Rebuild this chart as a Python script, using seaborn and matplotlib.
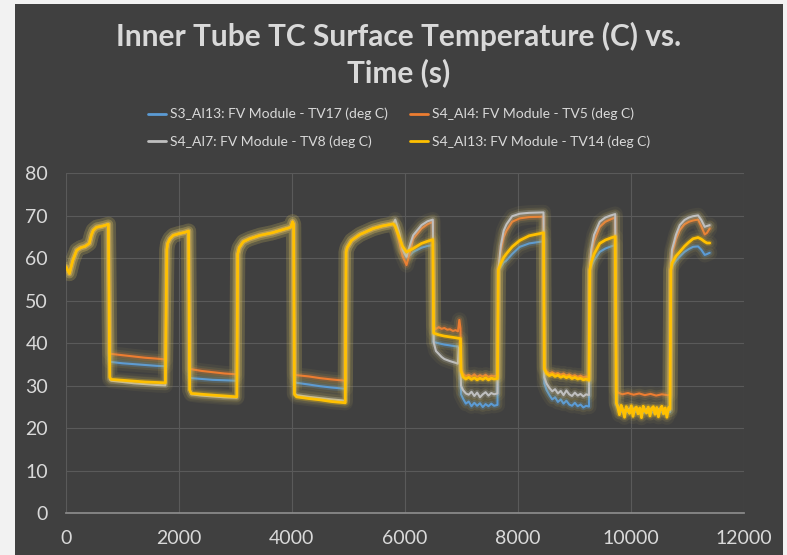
# %%
import pandas as pd
import seaborn as sns
import matplotlib.pyplot as plt
import matplotlib.patheffects as pe
from matplotlib.lines import Line2D
from matplotlib.patches import Rectangle

sns.set_theme(style="dark")
plt.rcParams['font.family'] = ['Lato', 'DejaVu Sans']

# %%
# shared time stamps (s)
hi_a_t = [0, 60, 120, 190, 260, 336, 412, 450, 483, 543, 650, 750]
hi_a_v = [58.0, 56.4, 59.5, 61.9, 62.5, 62.8, 63.5, 65.5, 66.6, 67.3, 67.6, 68.0]
lo1_t = [775, 800, 1000, 1200, 1400, 1600, 1760]
hi_b_t = [1785, 1800, 1840, 1900, 2000, 2100, 2170]
hi_b_v = [62.0, 63.5, 64.6, 65.4, 65.8, 66.1, 66.4]
lo2_t = [2190, 2220, 2400, 2600, 2800, 3025]
hi_c_t = [3040, 3068, 3138, 3250, 3434, 3650, 3935, 3980, 4012, 4030]
hi_c_v = [61.0, 62.5, 63.9, 64.6, 65.4, 66.0, 67.1, 67.3, 68.6, 68.0]
lo3_t = [4045, 4083, 4300, 4500, 4700, 4945]
hi_d_t = [4960, 4979, 5056, 5204, 5439, 5600, 5793]
hi_d_v = [61.5, 62.5, 64.2, 65.6, 67.0, 67.6, 68.1]
mid_t = [5830, 5900, 5960, 6030, 6100, 6147, 6295, 6400, 6495]
lo6_t = [6995, 7030, 7080, 7130, 7180, 7230, 7280, 7330, 7380, 7430, 7480, 7530, 7580, 7640]
hi7_t = [7655, 7700, 7750, 7800, 7900, 8035, 8200, 8455]
lo8_t = [8470, 8510, 8560, 8610, 8660, 8710, 8760, 8810, 8860, 8910, 8960, 9010,
         9060, 9110, 9160, 9210, 9260]
hi9_t = [9275, 9300, 9350, 9451, 9550, 9650, 9725]
hi11_t = [10710, 10730, 10800, 10867, 10950, 11030, 11103, 11192, 11250, 11310, 11350, 11398]

lo5_short_t = [6510, 6600, 6700, 6800, 6900, 6985]
lo10_short_t = [9745, 9800, 9900, 10000, 10100, 10200, 10300, 10400, 10500, 10600, 10695]

# S4_AI13 (yellow)
yel_lo10_t = [9745, 9770, 9800, 9830, 9860, 9890, 9920, 9950, 9980, 10010, 10040, 10070,
              10100, 10130, 10160, 10190, 10220, 10250, 10280, 10310, 10340, 10370, 10400,
              10430, 10460, 10490, 10520, 10550, 10580, 10610, 10640, 10670, 10695]
yel_t = (hi_a_t + lo1_t + hi_b_t + lo2_t + hi_c_t + lo3_t + hi_d_t + mid_t + lo5_short_t
         + lo6_t + hi7_t + lo8_t + hi9_t + yel_lo10_t + hi11_t)
yel_v = (hi_a_v + [32.0, 31.5, 31.3, 31.1, 30.9, 30.8, 30.7] + hi_b_v
         + [29.0, 28.2, 28.0, 27.8, 27.6, 27.4] + hi_c_v
         + [28.0, 27.4, 27.0, 26.7, 26.3, 26.0] + hi_d_v
         + [67.5, 65.0, 62.8, 61.5, 62.0, 62.3, 63.5, 64.0, 64.4]
         + [42.4, 42.0, 41.7, 41.5, 41.3, 41.1]
         + [33.5, 32.1, 31.6, 32.0, 31.5, 31.9, 31.4, 31.8, 31.5, 31.9, 31.4, 31.8, 31.6, 31.7]
         + [57.2, 58.8, 60.2, 61.1, 62.7, 64.2, 65.3, 66.0]
         + [34.0, 32.9, 32.4, 32.7, 32.2, 32.5, 32.0, 32.3, 31.9, 32.2, 31.7, 32.0, 31.6,
            31.8, 31.4, 31.6, 31.3]
         + [57.2, 59.0, 61.0, 63.5, 64.3, 64.8, 65.1]
         + [26.0, 25.0, 23.2, 25.4, 24.3, 22.6, 25.1, 24.2, 23.5, 25.3, 22.8, 24.6, 25.0,
            23.4, 24.8, 22.5, 25.2, 24.1, 23.6, 25.0, 22.9, 24.7, 25.1, 23.3, 24.9, 22.7,
            24.5, 25.2, 23.4, 24.8, 22.6, 24.9, 24.5]
         + [57.2, 58.8, 60.5, 61.5, 62.8, 63.8, 64.6, 64.9, 64.5, 63.9, 63.6, 63.6])

# S4_AI4 (orange)
ora_lo5_t = [6510, 6540, 6600, 6650, 6700, 6750, 6800, 6850, 6900, 6940, 6965, 6985]
ora_lo10_t = [9745, 9775, 9850, 9950, 10050, 10150, 10250, 10350, 10450, 10550, 10650, 10695]
ora_t = (hi_a_t + lo1_t + hi_b_t + lo2_t + hi_c_t + lo3_t + hi_d_t + mid_t + ora_lo5_t
         + lo6_t + hi7_t + lo8_t + hi9_t + ora_lo10_t + hi11_t)
ora_v = (hi_a_v + [37.8, 37.5, 37.2, 36.9, 36.6, 36.4, 36.2] + hi_b_v
         + [34.0, 33.9, 33.5, 33.2, 32.9, 32.7] + hi_c_v
         + [32.8, 32.5, 32.2, 31.8, 31.5, 31.2] + hi_d_v
         + [67.5, 64.0, 60.5, 58.4, 62.0, 64.6, 67.0, 68.0, 68.6]
         + [44.2, 43.3, 43.8, 43.4, 43.6, 43.2, 43.3, 42.9, 43.1, 42.8, 45.5, 43.5]
         + [34.0, 32.8, 32.3, 32.6, 32.2, 32.7, 32.1, 32.5, 32.2, 32.6, 32.1, 32.4, 32.3, 32.4]
         + [57.2, 62.0, 65.0, 66.5, 68.6, 69.4, 69.7, 69.8]
         + [34.5, 33.4, 32.9, 33.2, 32.8, 33.0, 32.6, 32.9, 32.4, 32.7, 32.3, 32.5, 32.1,
            32.4, 32.0, 32.2, 32.0]
         + [57.2, 61.0, 64.0, 67.4, 68.6, 69.2, 69.6]
         + [29.0, 28.4, 28.0, 28.3, 27.9, 28.2, 27.8, 28.1, 27.7, 28.0, 27.8, 27.9]
         + [57.2, 61.0, 64.5, 66.6, 68.0, 68.6, 68.9, 69.1, 67.5, 65.6, 66.0, 67.0])

# S3_AI13 (blue)
blu_t = (hi_a_t + lo1_t + hi_b_t + lo2_t + hi_c_t + lo3_t + hi_d_t + mid_t + lo5_short_t
         + lo6_t + hi7_t + lo8_t + hi9_t + lo10_short_t + hi11_t)
blu_v = (hi_a_v + [35.8, 35.6, 35.3, 35.1, 34.9, 34.7, 34.6] + hi_b_v
         + [32.0, 31.8, 31.6, 31.4, 31.3, 31.2] + hi_c_v
         + [31.0, 30.7, 30.3, 29.9, 29.6, 29.3] + hi_d_v
         + [67.5, 64.5, 61.8, 60.2, 60.8, 61.5, 62.5, 62.9, 63.1]
         + [40.3, 40.0, 39.7, 39.5, 39.3, 39.2]
         + [28.0, 27.0, 25.8, 26.3, 25.2, 26.0, 25.3, 25.9, 25.0, 25.7, 25.2, 25.8, 25.3, 25.5]
         + [57.2, 58.0, 59.0, 59.5, 61.0, 62.7, 63.5, 64.0]
         + [30.5, 29.0, 27.8, 26.8, 27.3, 26.2, 26.8, 25.8, 26.5, 25.6, 25.3, 26.0, 25.2,
            25.6, 24.9, 25.3, 25.1]
         + [57.2, 58.0, 59.5, 61.5, 62.3, 62.8, 63.1]
         + [25.5, 24.0, 23.6, 24.2, 23.8, 23.5, 24.0, 23.7, 23.9, 23.6, 23.8]
         + [57.2, 58.0, 59.4, 60.4, 61.5, 62.2, 62.7, 62.8, 62.0, 60.8, 61.0, 61.3])

# S4_AI7 (gray)
gra_lo5_t = [6510, 6550, 6600, 6650, 6700, 6800, 6900, 6940, 6955, 6985]
gra_t = (hi_a_t + lo1_t + hi_b_t + lo2_t + hi_c_t + lo3_t + hi_d_t + mid_t + gra_lo5_t
         + lo6_t + hi7_t + lo8_t + hi9_t + lo10_short_t + hi11_t)
gra_v = (hi_a_v + [31.5, 31.2, 30.9, 30.6, 30.4, 30.2, 30.1] + hi_b_v
         + [29.0, 28.0, 27.7, 27.5, 27.3, 27.2] + hi_c_v
         + [28.3, 27.8, 27.4, 27.1, 26.8, 26.5] + hi_d_v
         + [69.1, 66.0, 62.0, 60.4, 63.5, 65.4, 67.8, 68.7, 69.1]
         + [40.3, 38.2, 37.5, 36.8, 36.3, 35.8, 35.4, 35.2, 39.0, 34.5]
         + [30.0, 29.0, 28.2, 27.9, 28.6, 27.6, 28.4, 27.3, 28.0, 28.5, 27.7, 28.3, 28.0, 28.2]
         + [57.2, 63.0, 66.5, 68.0, 69.9, 70.5, 70.7, 70.8]
         + [32.0, 30.5, 29.5, 28.7, 29.2, 28.2, 28.8, 27.8, 28.9, 28.0, 27.6, 28.4, 27.7,
            28.1, 27.5, 28.0, 27.8]
         + [57.2, 62.0, 65.5, 68.6, 69.6, 70.1, 70.4]
         + [26.0, 24.6, 24.2, 24.8, 24.4, 24.1, 24.6, 24.3, 24.5, 24.2, 24.4]
         + [57.2, 62.0, 65.5, 67.8, 69.0, 69.6, 69.9, 70.1, 69.0, 67.4, 67.6, 67.8])

labels = ["S3_AI13: FV Module - TV17 (deg C)", "S4_AI4: FV Module - TV5 (deg C)",
          "S4_AI7: FV Module - TV8 (deg C)", "S4_AI13: FV Module - TV14 (deg C)"]
colors = ['#5B9BD5', '#ED7D31', '#BFBFBF', '#FFC000']
widths = [1.5, 1.5, 1.5, 2.0]

# %%
fig = plt.figure(figsize=(7.87, 5.55), dpi=100, facecolor='#f2f2f2')
fig.patches.append(Rectangle((15 / 787, 0), 768 / 787, 551 / 555, transform=fig.transFigure,
                             facecolor='#404040', edgecolor='none', zorder=-5))
ax = fig.add_axes([66 / 787, 41.7 / 555, 677.7 / 787, 340 / 555])
ax.set_facecolor('#404040')

series = [(blu_t, blu_v), (ora_t, ora_v), (gra_t, gra_v), (yel_t, yel_v)]
for (t, v), lab, c, w in zip(series, labels, colors, widths):
    df = pd.DataFrame({'time': t, 'temp': v})
    glow = [pe.Stroke(linewidth=11, foreground='#c8b460', alpha=0.07),
            pe.Stroke(linewidth=7, foreground='#d8c060', alpha=0.10),
            pe.Stroke(linewidth=4, foreground=c, alpha=0.22),
            pe.Normal()]
    sns.lineplot(data=df, x='time', y='temp', ax=ax, color=c, linewidth=w,
                 estimator=None, sort=False, path_effects=glow, zorder=3)

ax.set_xlim(0, 12000)
ax.set_ylim(0, 80)
ax.set_xticks(range(0, 12001, 2000))
ax.set_yticks(range(0, 81, 10))
ax.set_xlabel('')
ax.set_ylabel('')
ax.grid(True, color='#5a5a5a', linewidth=0.8)
ax.set_axisbelow(True)
for s in ['top', 'right', 'left']:
    ax.spines[s].set_visible(False)
ax.spines['bottom'].set_color('#8c8c8c')
ax.tick_params(axis='both', length=0, labelcolor='#d9d9d9', labelsize=14)
ax.tick_params(axis='y', pad=13)
ax.tick_params(axis='x', pad=12)

fig.text(0.507, 1 - 55 / 555, "Inner Tube TC Surface Temperature (C) vs.\nTime (s)",
         ha='center', va='center', fontsize=21.5, fontweight='bold', color='#d9d9d9',
         linespacing=1.3)

handles = [Line2D([], [], color=c, linewidth=2) for c in colors]
order = [0, 2, 1, 3]
fig.legend([handles[i] for i in order], [labels[i] for i in order], ncol=2, loc='center',
           bbox_to_anchor=(0.507, 1 - 128 / 555), frameon=False, fontsize=10,
           labelcolor='#d9d9d9', handlelength=1.3, handletextpad=0.3,
           columnspacing=1.6, labelspacing=1.1)

fig.savefig('out.png', dpi=100, facecolor=fig.get_facecolor())
